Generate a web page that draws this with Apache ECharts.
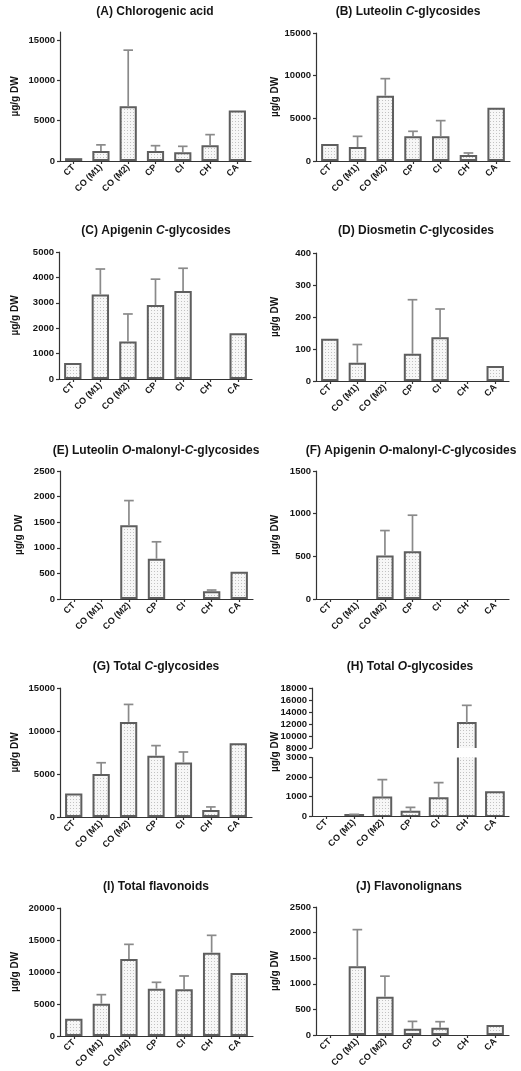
<!DOCTYPE html>
<html><head><meta charset="utf-8">
<script src="https://cdn.jsdelivr.net/npm/echarts@6/dist/echarts.min.js"></script>
<style>html,body{margin:0;padding:0;background:#fff}#c{width:521px;height:1071px}</style>
</head><body><div id="c"></div>
<script>
// ---------------- DATA ----------------
const categories = ['CT', 'CO (M1)', 'CO (M2)', 'CP', 'CI', 'CH', 'CA'];

const chlorogenicMean = [350, 1240, 6800, 1240, 1100, 1950, 6250];
const chlorogenicSD   = [0, 760, 6950, 660, 720, 1320, 0];

const luteolinCMean = [2000, 1640, 7650, 2890, 2890, 700, 6250];
const luteolinCSD   = [0, 1250, 2000, 590, 1840, 240, 0];

const apigeninCMean = [630, 3330, 1475, 2910, 3460, 0, 1800];
const apigeninCSD   = [0, 1000, 1085, 1020, 900, 0, 0];

const diosmetinCMean = [132, 57, 0, 85, 137, 0, 47];
const diosmetinCSD   = [0, 57, 0, 169, 88, 0, 0];

const luteolinOMalMean = [0, 0, 1440, 786, 0, 150, 532];
const luteolinOMalSD   = [0, 0, 482, 331, 0, 25, 0];

const apigeninOMalMean = [0, 0, 510, 561, 0, 0, 0];
const apigeninOMalSD   = [0, 0, 292, 421, 0, 0, 0];

const totalCMean = [2730, 4990, 11060, 7130, 6350, 820, 8570];
const totalCSD   = [0, 1320, 2030, 1170, 1210, 350, 0];

const totalOMean = [0, 51, 943, 223, 909, 12167, 1218];
const totalOSD   = [0, 35, 926, 223, 806, 2944, 0];

const totalFlavMean = [2710, 5050, 12030, 7400, 7290, 13020, 9840];
const totalFlavSD   = [0, 1410, 2290, 990, 2090, 2710, 0];

const flavonolignanMean = [0, 1344, 747, 123, 143, 0, 195];
const flavonolignanSD   = [0, 714, 402, 143, 117, 0, 0];

const ticksA = [0, 5000, 10000, 15000];
const ticksB = [0, 5000, 10000, 15000];
const ticksC = [0, 1000, 2000, 3000, 4000, 5000];
const ticksD = [0, 100, 200, 300, 400];
const ticksE = [0, 500, 1000, 1500, 2000, 2500];
const ticksF = [0, 500, 1000, 1500];
const ticksG = [0, 5000, 10000, 15000];
const ticksHLower = [0, 1000, 2000, 3000];
const ticksHUpper = [8000, 10000, 12000, 14000, 16000, 18000];
const ticksI = [0, 5000, 10000, 15000, 20000];
const ticksJ = [0, 500, 1000, 1500, 2000, 2500];

const yName = 'µg/g DW';

// ---------------- LAYOUT / STYLE ----------------
const FONT = '"Liberation Sans", Arial, Helvetica, sans-serif';
const AXIS_COLOR = '#333';
const TEXT_COLOR = '#151515';
const BORDER_COLOR = '#5e5e5e';
const ERR_COLOR = '#8a8a8a';
const BAR_RATIO = 0.63;

const pc = document.createElement('canvas');
pc.width = 3; pc.height = 3;
const pctx = pc.getContext('2d');
pctx.fillStyle = '#f7f7f7'; pctx.fillRect(0, 0, 3, 3);
pctx.fillStyle = '#c2c2c2'; pctx.fillRect(1, 1, 1, 1);
const fillPattern = { image: pc, repeat: 'repeat' };

const panels = [
  { title: '(A) Chlorogenic acid', mean: chlorogenicMean, sd: chlorogenicSD, ticks: ticksA, max: 16000,
    grid: { left: 60, top: 32, width: 191, height: 129 }, tpos: [155, 13], nameGap: 40 },
  { title: '(B) Luteolin {i|C}-glycosides', mean: luteolinCMean, sd: luteolinCSD, ticks: ticksB, max: 15000,
    grid: { left: 316, top: 33, width: 194, height: 128 }, tpos: [408, 13], nameGap: 36 },
  { title: '(C) Apigenin {i|C}-glycosides', mean: apigeninCMean, sd: apigeninCSD, ticks: ticksC, max: 5000,
    grid: { left: 59, top: 252, width: 193, height: 127 }, tpos: [156, 232], nameGap: 39 },
  { title: '(D) Diosmetin {i|C}-glycosides', mean: diosmetinCMean, sd: diosmetinCSD, ticks: ticksD, max: 400,
    grid: { left: 316, top: 253, width: 193, height: 128 }, tpos: [416, 232], nameGap: 36 },
  { title: '(E) Luteolin {i|O}-malonyl-{i|C}-glycosides', mean: luteolinOMalMean, sd: luteolinOMalSD, ticks: ticksE, max: 2500,
    grid: { left: 60, top: 471, width: 193, height: 128 }, tpos: [156, 452], nameGap: 36 },
  { title: '(F) Apigenin {i|O}-malonyl-{i|C}-glycosides', mean: apigeninOMalMean, sd: apigeninOMalSD, ticks: ticksF, max: 1500,
    grid: { left: 316, top: 471, width: 193, height: 128 }, tpos: [411, 452], nameGap: 36 },
  { title: '(G) Total {i|C}-glycosides', mean: totalCMean, sd: totalCSD, ticks: ticksG, max: 15000,
    grid: { left: 60, top: 688, width: 192, height: 129 }, tpos: [156, 668], nameGap: 40 },
  { title: '(I) Total flavonoids', mean: totalFlavMean, sd: totalFlavSD, ticks: ticksI, max: 20000,
    grid: { left: 60, top: 908, width: 193, height: 128 }, tpos: [156, 888], nameGap: 40 },
  { title: '(J) Flavonolignans', mean: flavonolignanMean, sd: flavonolignanSD, ticks: ticksJ, max: 2500,
    grid: { left: 316, top: 907, width: 193, height: 128 }, tpos: [409, 888], nameGap: 36 }
];
const panelH = {
  title: '(H) Total {i|O}-glycosides', mean: totalOMean, sd: totalOSD,
  upper: { left: 312, top: 688, width: 197, height: 60 },
  lower: { left: 312, top: 757.5, width: 197, height: 58.5 },
  nameGrid: { left: 312, top: 688, width: 197, height: 128 },
  tpos: [410, 668], nameGap: 32
};

// ---------------- BUILD ----------------
const grids = [], xAxes = [], yAxes = [], series = [], titles = [];

function addTitle(text, pos) {
  titles.push({
    text: text, left: pos[0], top: pos[1] - 7, textAlign: 'center', padding: 0,
    textStyle: {
      fontFamily: FONT, fontSize: 12, fontWeight: 'bold', color: TEXT_COLOR,
      rich: { i: { fontFamily: FONT, fontSize: 12, fontWeight: 'bold', fontStyle: 'italic', color: TEXT_COLOR } }
    }
  });
}
function gridCfg(g) {
  return Object.assign({ containLabel: false, outerBoundsMode: 'none' }, g);
}
function xAxisCfg(gi, show) {
  return {
    type: 'category', gridIndex: gi, data: categories, show: show, boundaryGap: true,
    axisLine: { show: true, lineStyle: { color: AXIS_COLOR, width: 1.2 } },
    axisTick: { show: true, alignWithLabel: true, length: 3, lineStyle: { color: AXIS_COLOR, width: 1.2 } },
    axisLabel: { rotate: 45, interval: 0, margin: 5, fontSize: 9, fontWeight: 'bold', color: TEXT_COLOR, fontFamily: FONT },
    splitLine: { show: false }
  };
}
function yAxisCfg(gi, ticks, min, max, name, nameGap) {
  return {
    type: 'value', gridIndex: gi, min: min, max: max, interval: ticks[1] - ticks[0],
    name: name, nameLocation: 'middle', nameGap: nameGap,
    nameTextStyle: { fontFamily: FONT, fontSize: 10, fontWeight: 'bold', color: TEXT_COLOR },
    axisLine: { show: true, lineStyle: { color: AXIS_COLOR, width: 1.2 } },
    axisTick: { show: true, length: 3, customValues: ticks, lineStyle: { color: AXIS_COLOR, width: 1.2 } },
    axisLabel: { customValues: ticks, formatter: v => String(v), margin: 5, fontSize: 9.5, fontWeight: 'bold', color: TEXT_COLOR, fontFamily: FONT },
    splitLine: { show: false }
  };
}
function errorSeries(gi, mean, sd) {
  return {
    type: 'custom', xAxisIndex: gi, yAxisIndex: gi, clip: true, z: 3, silent: true,
    encode: { x: 0, y: [1, 2] },
    data: mean.map((m, i) => [i, m, m + sd[i]]),
    renderItem: function (params, api) {
      const m = api.value(1), t = api.value(2);
      if (!(t > m)) return null;
      const p0 = api.coord([api.value(0), m]);
      const p1 = api.coord([api.value(0), t]);
      const half = api.size([1, 0])[0] * 0.175;
      const st = { stroke: ERR_COLOR, lineWidth: 1.7 };
      return {
        type: 'group', children: [
          { type: 'line', shape: { x1: p0[0], y1: p0[1], x2: p1[0], y2: p1[1] }, style: st },
          { type: 'line', shape: { x1: p1[0] - half, y1: p1[1], x2: p1[0] + half, y2: p1[1] }, style: st }
        ]
      };
    }
  };
}
function customBarSeries(gi, mean) {
  return {
    type: 'custom', xAxisIndex: gi, yAxisIndex: gi, clip: true, z: 2, silent: true,
    encode: { x: 0, y: 1 },
    data: mean.map((v, i) => [i, v]),
    renderItem: function (params, api) {
      const i = api.value(0), v = api.value(1);
      if (!(v > 0)) return null;
      const p0 = api.coord([i, 0]);
      const p1 = api.coord([i, v]);
      const w = api.size([1, 0])[0] * BAR_RATIO;
      return {
        type: 'rect',
        shape: { x: p0[0] - w / 2, y: p1[1], width: w, height: p0[1] - p1[1] },
        style: { fill: fillPattern, stroke: BORDER_COLOR, lineWidth: 2 }
      };
    }
  };
}

panels.forEach(p => {
  const gi = grids.length;
  grids.push(gridCfg(p.grid));
  xAxes.push(xAxisCfg(gi, true));
  yAxes.push(yAxisCfg(gi, p.ticks, 0, p.max, yName, p.nameGap));
  series.push({
    type: 'bar', xAxisIndex: gi, yAxisIndex: gi,
    // not-detected (0) groups are left without a drawn box, as in the original figure
    data: p.mean.map(v => (v > 0 ? v : '-')),
    barWidth: (BAR_RATIO * 100) + '%',
    itemStyle: { color: fillPattern, borderColor: BORDER_COLOR, borderWidth: 2 },
    emphasis: { disabled: true }, silent: true, z: 2
  });
  series.push(errorSeries(gi, p.mean, p.sd));
  addTitle(p.title, p.tpos);
});

// Panel H: broken axis drawn as two stacked grids
(function () {
  const h = panelH;
  const gu = grids.length;
  grids.push(gridCfg(h.upper));
  xAxes.push(xAxisCfg(gu, false));
  yAxes.push(yAxisCfg(gu, ticksHUpper, 8000, 18000, '', 0));
  series.push(customBarSeries(gu, h.mean));
  series.push(errorSeries(gu, h.mean, h.sd));

  const gl = grids.length;
  grids.push(gridCfg(h.lower));
  xAxes.push(xAxisCfg(gl, true));
  yAxes.push(yAxisCfg(gl, ticksHLower, 0, 3000, '', 0));
  series.push(customBarSeries(gl, h.mean));
  series.push(errorSeries(gl, h.mean, h.sd));

  const gn = grids.length;
  grids.push(gridCfg(h.nameGrid));
  xAxes.push({ type: 'value', gridIndex: gn, show: false });
  yAxes.push({
    type: 'value', gridIndex: gn, name: yName, nameLocation: 'middle', nameGap: h.nameGap,
    nameTextStyle: { fontFamily: FONT, fontSize: 10, fontWeight: 'bold', color: TEXT_COLOR },
    axisLine: { show: false }, axisTick: { show: false }, axisLabel: { show: false }, splitLine: { show: false }
  });
  addTitle(h.title, h.tpos);
})();

const chart = echarts.init(document.getElementById('c'), null, { renderer: 'canvas' });
chart.setOption({
  backgroundColor: '#ffffff',
  animation: false,
  title: titles,
  grid: grids,
  xAxis: xAxes,
  yAxis: yAxes,
  series: series
});
</script>
</body></html>
